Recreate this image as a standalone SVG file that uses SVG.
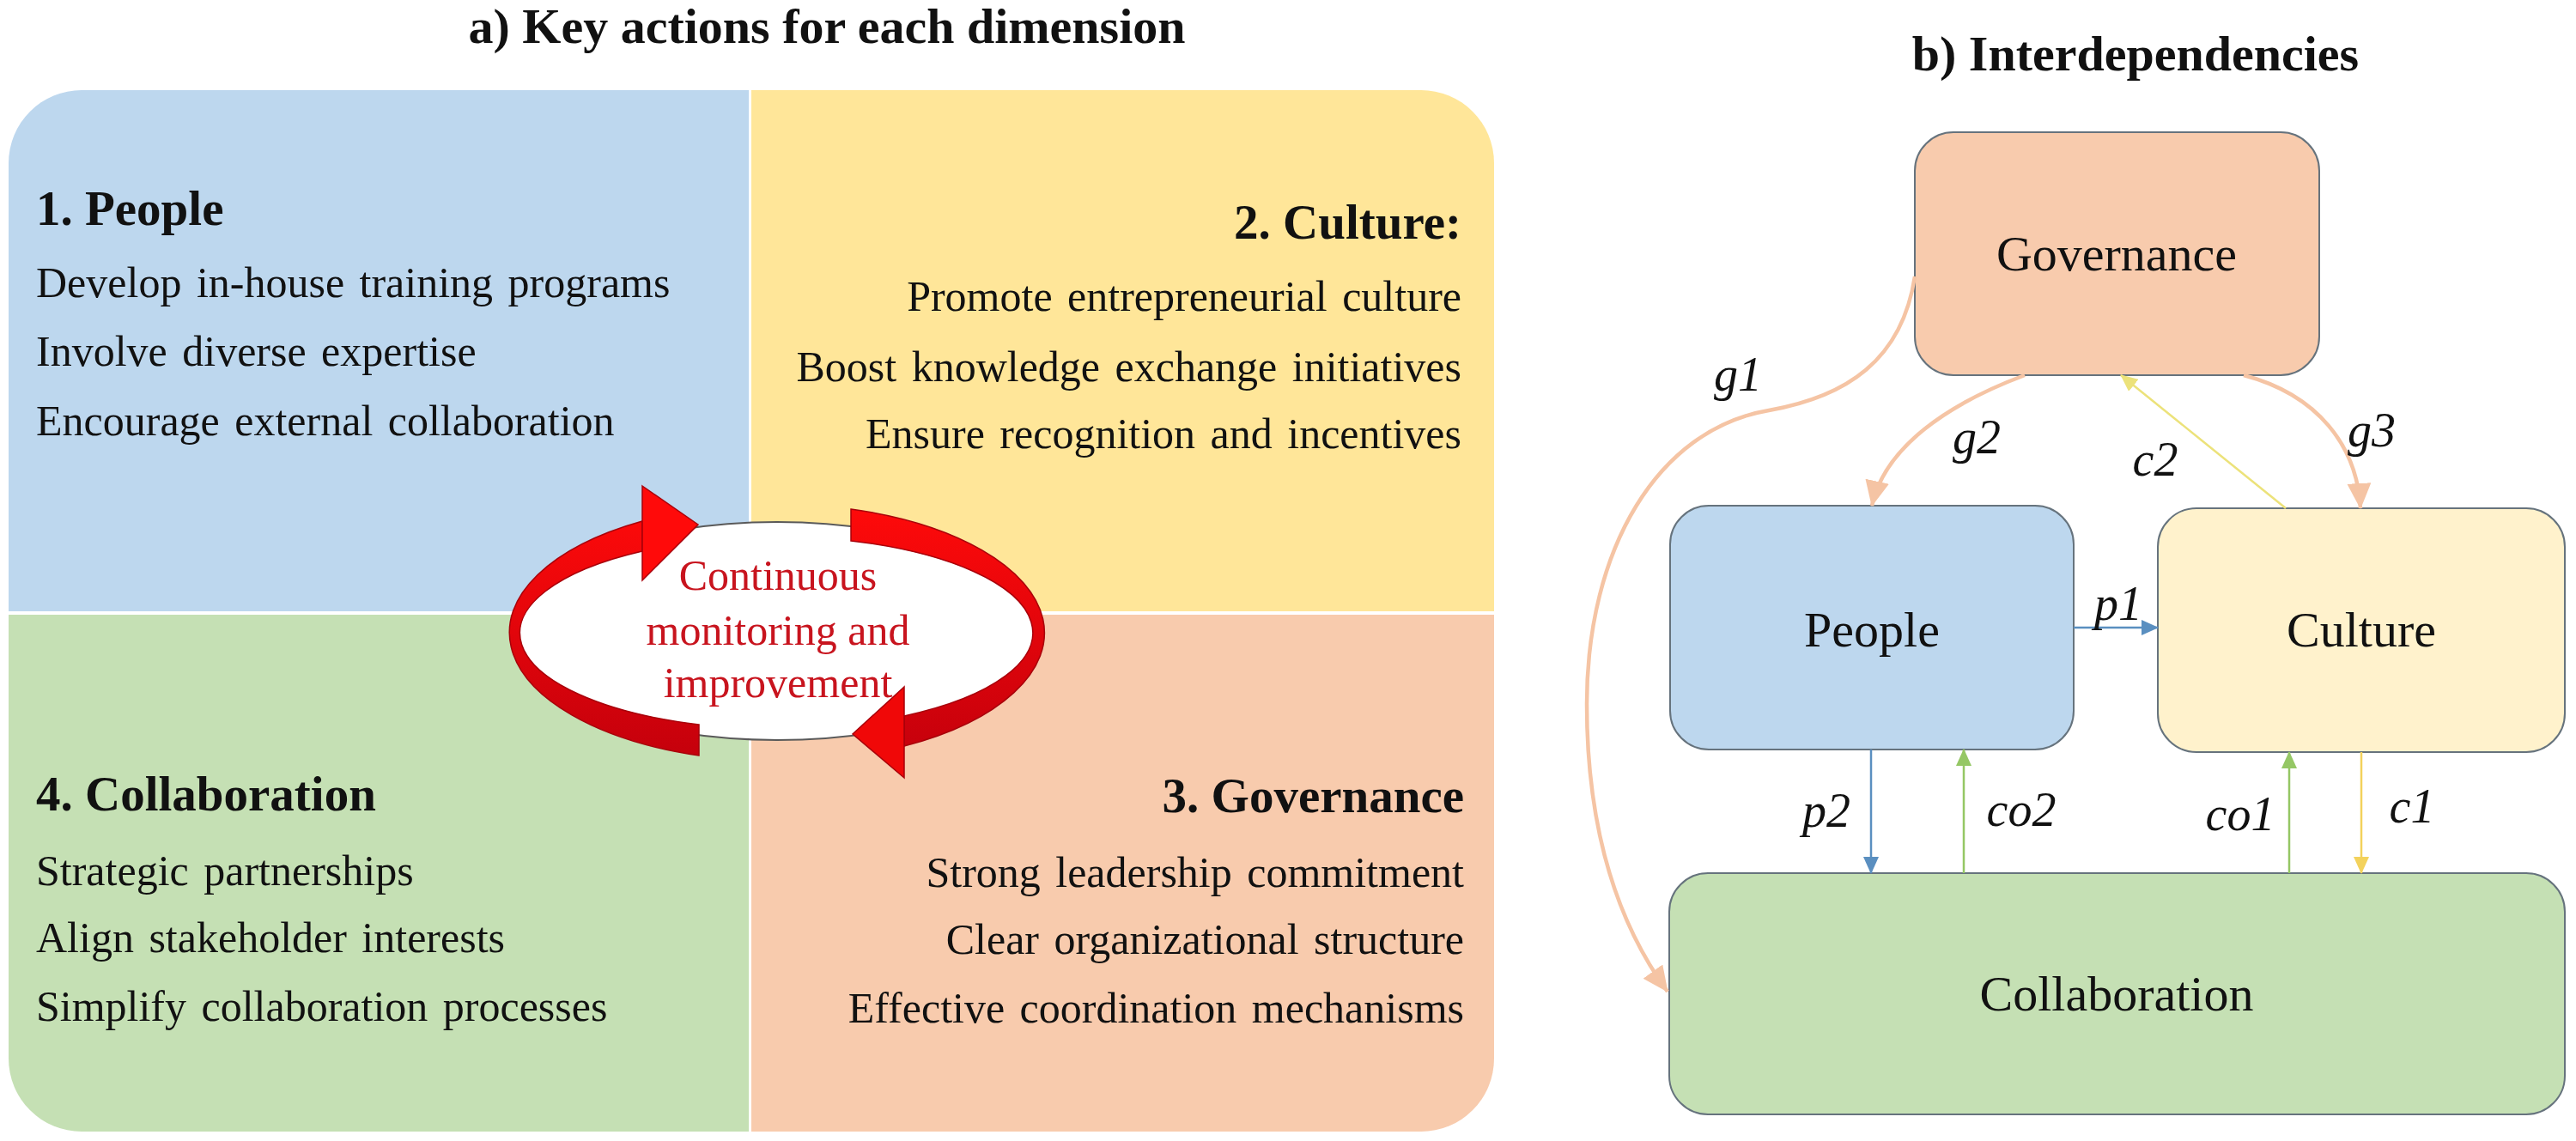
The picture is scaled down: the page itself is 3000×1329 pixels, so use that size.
<svg xmlns="http://www.w3.org/2000/svg" width="3000" height="1329" viewBox="0 0 3000 1329">
<style>
text{font-family:"Liberation Serif","Times New Roman",serif;fill:#111}
.title{font-size:58px;font-weight:bold;text-anchor:middle}
.head{font-size:57px;font-weight:bold}
.body{font-size:50px;word-spacing:5px}
.end{text-anchor:end}
.ring{font-size:50px;fill:#c8141e;text-anchor:middle}
.box{stroke:#66737d;stroke-width:2}
.lbl{font-size:58px;text-anchor:middle}
.it{font-size:56px;font-style:italic;text-anchor:middle}
.blue{stroke:#5a8fc0;stroke-width:2.5;fill:none}
.green{stroke:#95c765;stroke-width:2.5;fill:none}
.yellow{stroke:#f3d25c;stroke-width:2.5;fill:none}
.yellow2{stroke:#ece27a;stroke-width:2.5;fill:none}
.peach{stroke:#f5c4a4;stroke-width:4.5;fill:none}
</style>
<defs>
<marker id="mBlue" markerUnits="userSpaceOnUse" markerWidth="20" markerHeight="18" refX="19" refY="9" orient="auto"><path d="M0,0 L20,9 L0,18 Z" fill="#5a8fc0"/></marker>
<marker id="mGreen" markerUnits="userSpaceOnUse" markerWidth="20" markerHeight="18" refX="19" refY="9" orient="auto"><path d="M0,0 L20,9 L0,18 Z" fill="#95c765"/></marker>
<marker id="mYellow" markerUnits="userSpaceOnUse" markerWidth="20" markerHeight="18" refX="19" refY="9" orient="auto"><path d="M0,0 L20,9 L0,18 Z" fill="#f3d25c"/></marker>
<marker id="mYellow2" markerUnits="userSpaceOnUse" markerWidth="20" markerHeight="18" refX="19" refY="9" orient="auto"><path d="M0,0 L20,9 L0,18 Z" fill="#ece27a"/></marker>
<marker id="mPeach" markerUnits="userSpaceOnUse" markerWidth="30" markerHeight="28" refX="29" refY="14" orient="auto"><path d="M0,0 L30,14 L0,28 Z" fill="#f5c4a4"/></marker>
<linearGradient id="redg" gradientUnits="userSpaceOnUse" x1="0" y1="590" x2="0" y2="885">
<stop offset="0" stop-color="#ff0a0a"/><stop offset="1" stop-color="#c4000c"/>
</linearGradient>
</defs>

<text class="title" x="963" y="50">a) Key actions for each dimension</text>
<text class="title" x="2487" y="82">b) Interdependencies</text>

<g id="quad-people">
<path d="M10,712 L10,190 A85,85 0 0 1 95,105 L872,105 L872,712 Z" fill="#bdd7ee"/>
<text class="head" x="42" y="262">1. People</text>
<text class="body" x="42" y="346">Develop in-house training programs</text>
<text class="body" x="42" y="426">Involve diverse expertise</text>
<text class="body" x="42" y="507">Encourage external collaboration</text>
</g>
<g id="quad-culture">
<path d="M875,105 L1655,105 A85,85 0 0 1 1740,190 L1740,712 L875,712 Z" fill="#ffe699"/>
<text class="head end" x="1702" y="278">2. Culture:</text>
<text class="body end" x="1702" y="362">Promote entrepreneurial culture</text>
<text class="body end" x="1702" y="444">Boost knowledge exchange initiatives</text>
<text class="body end" x="1702" y="522">Ensure recognition and incentives</text>
</g>
<g id="quad-collaboration">
<path d="M10,716 L872,716 L872,1318 L95,1318 A85,85 0 0 1 10,1233 Z" fill="#c5e0b4"/>
<text class="head" x="42" y="944">4. Collaboration</text>
<text class="body" x="42" y="1031">Strategic partnerships</text>
<text class="body" x="42" y="1109">Align stakeholder interests</text>
<text class="body" x="42" y="1189">Simplify collaboration processes</text>
</g>
<g id="quad-governance">
<path d="M875,716 L1740,716 L1740,1233 A85,85 0 0 1 1655,1318 L875,1318 Z" fill="#f8cbad"/>
<text class="head end" x="1705" y="946">3. Governance</text>
<text class="body end" x="1705" y="1033">Strong leadership commitment</text>
<text class="body end" x="1705" y="1111">Clear organizational structure</text>
<text class="body end" x="1705" y="1191">Effective coordination mechanisms</text>
</g>

<g id="cycle">
<ellipse cx="905" cy="735" rx="308" ry="127" fill="#ffffff" stroke="#5a5a5a" stroke-width="2"/>
<text class="ring" x="906" y="687">Continuous</text>
<text class="ring" x="906" y="751">monitoring and</text>
<text class="ring" x="906" y="812">improvement</text>
<path d="M748,607 A312,150 0 0 0 814,880 L814,844 A300,112 0 0 1 748,642 Z" fill="url(#redg)" stroke="#a8000a" stroke-width="1.5"/>
<polygon points="748,566 813,611 748,676" fill="#ff0a0a" stroke="#a8000a" stroke-width="1.5"/>
<path d="M991,593 A312,150 0 0 1 1053,869 L1053,834 A300,112 0 0 0 991,630 Z" fill="url(#redg)" stroke="#a8000a" stroke-width="1.5"/>
<polygon points="1053,800 993,855 1053,906" fill="#f00808" stroke="#a8000a" stroke-width="1.5"/>
</g>

<g id="node-governance">
<rect class="box" x="2230" y="154" width="471" height="283" rx="45" fill="#f8cbad"/>
<text class="lbl" x="2465" y="315">Governance</text>
</g>
<g id="node-people">
<rect class="box" x="1945" y="589" width="470" height="284" rx="45" fill="#bdd7ee"/>
<text class="lbl" x="2180" y="753">People</text>
</g>
<g id="node-culture">
<rect class="box" x="2513" y="592" width="474" height="284" rx="45" fill="#fff2cc"/>
<text class="lbl" x="2750" y="753">Culture</text>
</g>
<g id="node-collaboration">
<rect class="box" x="1944" y="1017" width="1043" height="281" rx="45" fill="#c5e0b4"/>
<text class="lbl" x="2465" y="1177">Collaboration</text>
</g>

<g id="connectors">
<path class="peach" d="M2230,322 C2215,420 2150,462 2060,478 C1930,500 1848,640 1848,820 C1848,960 1880,1070 1942,1155" marker-end="url(#mPeach)"/>
<path class="peach" d="M2358,437 C2270,470 2195,520 2180,589" marker-end="url(#mPeach)"/>
<path class="peach" d="M2613,437 C2700,460 2745,520 2749,592" marker-end="url(#mPeach)"/>
<path class="yellow2" d="M2662,592 L2470,437" marker-end="url(#mYellow2)"/>
<path class="blue" d="M2415,731 L2513,731" marker-end="url(#mBlue)"/>
<path class="blue" d="M2179,873 L2179,1017" marker-end="url(#mBlue)"/>
<path class="green" d="M2287,1017 L2287,873" marker-end="url(#mGreen)"/>
<path class="green" d="M2666,1017 L2666,876" marker-end="url(#mGreen)"/>
<path class="yellow" d="M2750,876 L2750,1017" marker-end="url(#mYellow)"/>
<text class="it" x="2024" y="455">g1</text>
<text class="it" x="2302" y="528">g2</text>
<text class="it" x="2762" y="520">g3</text>
<text class="it" x="2510" y="554">c2</text>
<text class="it" x="2467" y="722">p1</text>
<text class="it" x="2127" y="963">p2</text>
<text class="it" x="2354" y="962">co2</text>
<text class="it" x="2609" y="967">co1</text>
<text class="it" x="2809" y="958">c1</text>
</g>
</svg>
